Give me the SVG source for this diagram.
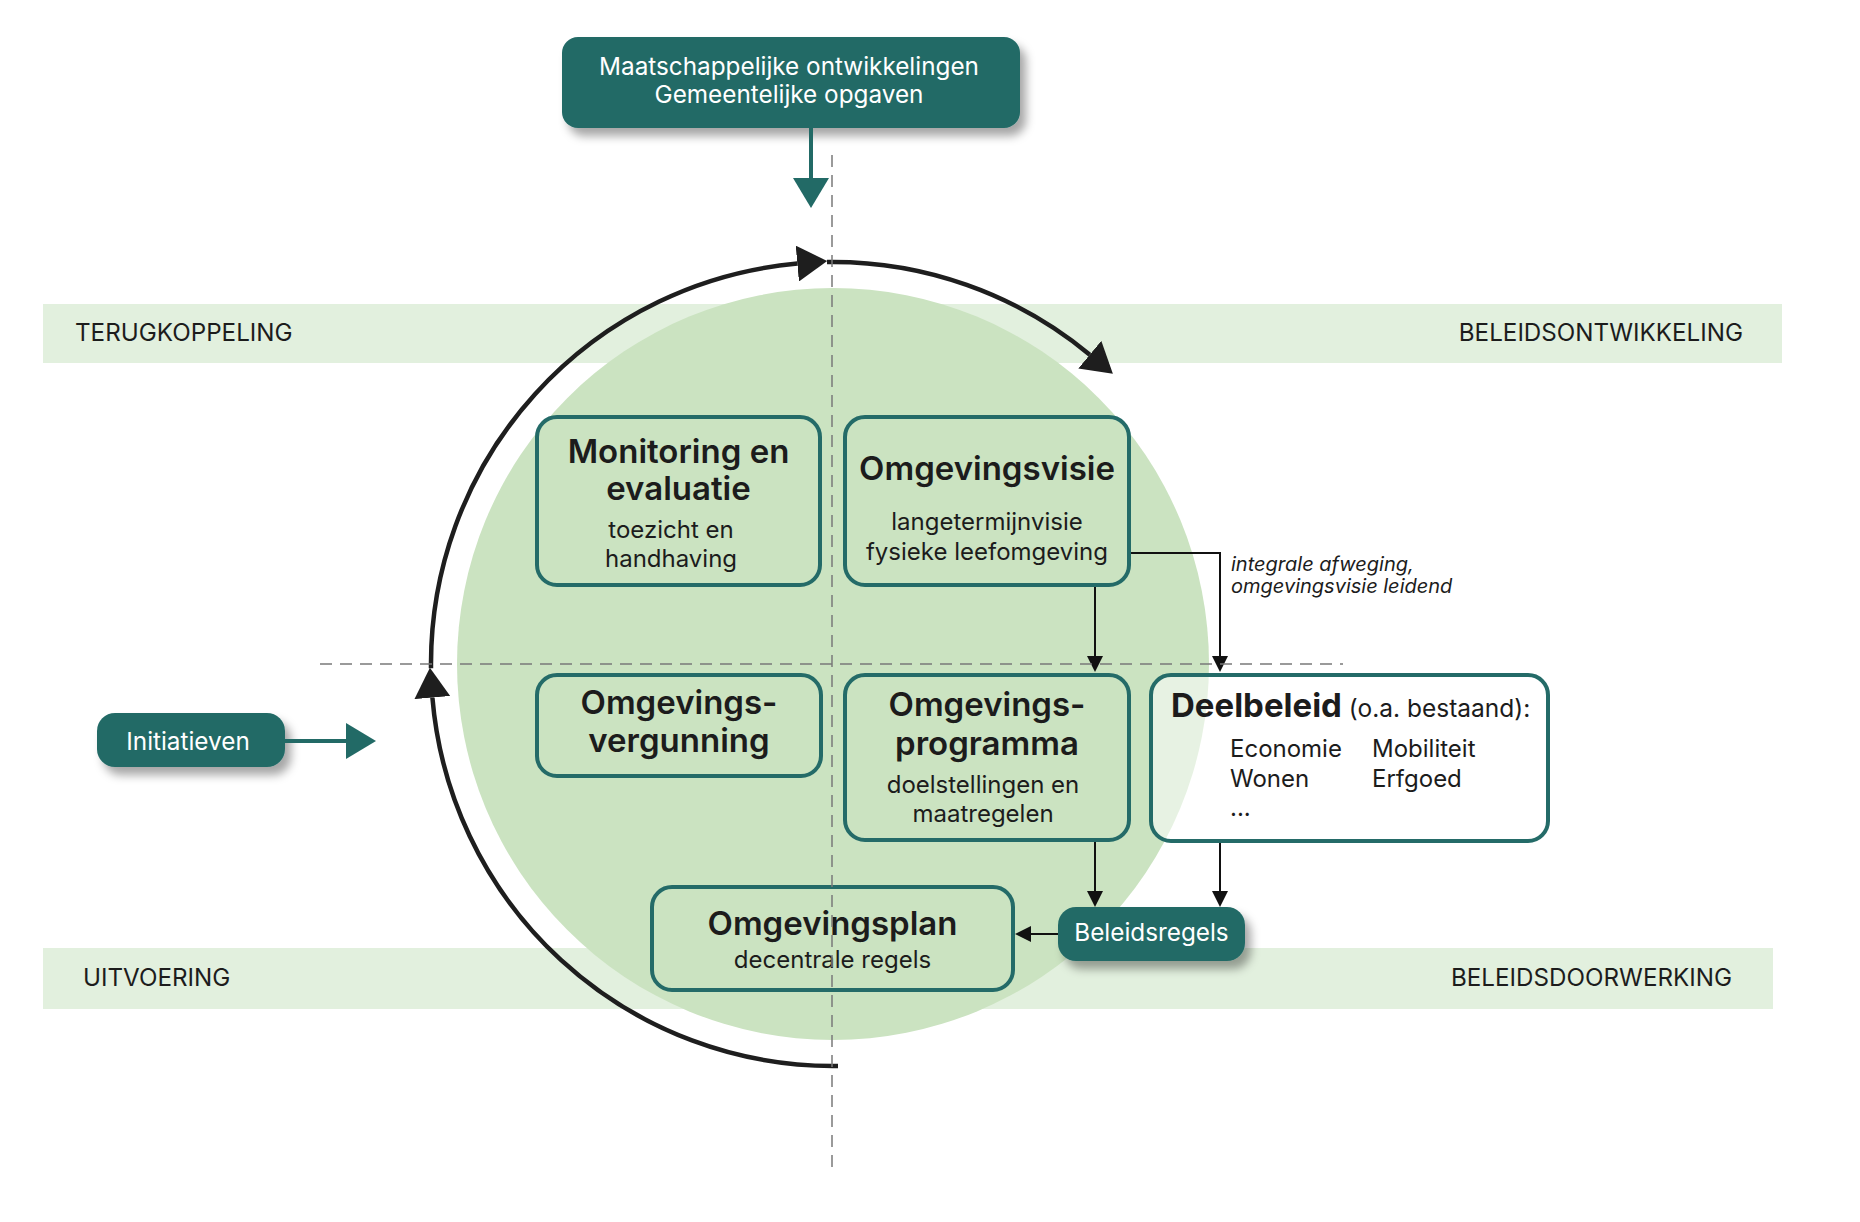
<svg xmlns="http://www.w3.org/2000/svg" width="1860" height="1222" viewBox="0 0 1860 1222">
<style>
.t{font-family:Inter,"Noto Sans","Liberation Sans",sans-serif;fill:#1c1c1c}
.band{fill:#e2f0de}
.bl{font-size:24.2px}
.box{fill:none;stroke:#246b68;stroke-width:4}
.ttl{font-size:33px;font-weight:600;text-anchor:middle}
.sub{font-size:24px;text-anchor:middle}
.tealbox{fill:#226a66}
.wt{fill:#ffffff;font-size:24.3px;text-anchor:middle}
.con{fill:none;stroke:#111;stroke-width:2}
.arc{fill:none;stroke:#1e1e1e;stroke-width:4.5}
.tcon{fill:none;stroke:#226a66;stroke-width:4}
.dash{fill:none;stroke:#7a7a7a;stroke-width:1.5;stroke-dasharray:12 8}
</style>
<defs>
<filter id="sh" x="-20%" y="-30%" width="150%" height="180%">
<feDropShadow dx="6" dy="8" stdDeviation="5" flood-color="#000" flood-opacity="0.35"/>
</filter>
<marker id="ab" viewBox="0 0 16 16" refX="0" refY="8" markerWidth="16" markerHeight="16" markerUnits="userSpaceOnUse" orient="auto"><path d="M0,0 L16,8 L0,16 z" fill="#111"/></marker>
<marker id="abig" viewBox="0 0 30 36" refX="0" refY="18" markerWidth="30" markerHeight="36" markerUnits="userSpaceOnUse" orient="auto"><path d="M0,0 L30,18 L0,36 z" fill="#1e1e1e"/></marker>
<marker id="ateal" viewBox="0 0 30 36" refX="0" refY="18" markerWidth="30" markerHeight="36" markerUnits="userSpaceOnUse" orient="auto"><path d="M0,0 L30,18 L0,36 z" fill="#226a66"/></marker>
</defs>

<g id="bands">
<rect class="band" x="43" y="304" width="1739" height="59"/>
<rect class="band" x="43" y="948" width="1730" height="61"/>
<text class="t bl" x="75" y="341">TERUGKOPPELING</text>
<text class="t bl" x="1743" y="341" text-anchor="end">BELEIDSONTWIKKELING</text>
<text class="t bl" x="83" y="986">UITVOERING</text>
<text class="t bl" x="1732" y="986" text-anchor="end">BELEIDSDOORWERKING</text>
</g>

<circle id="cycle-bg" cx="833" cy="664" r="376" fill="#cbe3c1"/>

<g id="cycle-arc">
<path class="arc" d="M838,1066 L833,1066 A402,402 0 0 1 432.4,697.6" marker-end="url(#abig)"/>
<path class="arc" d="M431,668.2 A402,402 0 0 1 797.3,263.6" marker-end="url(#abig)"/>
<path class="arc" d="M827,262 A402,402 0 0 1 1089.8,354.7" marker-end="url(#abig)"/>
</g>

<g id="node-maatschappelijk">
<rect class="tealbox" x="562" y="37" width="458" height="91" rx="16" filter="url(#sh)"/>
<text class="t wt" x="789" y="75">Maatschappelijke ontwikkelingen</text>
<text class="t wt" x="789" y="103">Gemeentelijke opgaven</text>
</g>

<g id="node-initiatieven">
<rect class="tealbox" x="97" y="713" width="188" height="54" rx="18" filter="url(#sh)"/>
<text class="t wt" x="188" y="750" font-size="25">Initiatieven</text>
</g>

<g id="node-monitoring">
<rect class="box" x="537" y="417" width="283" height="168" rx="20"/>
<text class="t ttl" x="678.5" y="463">Monitoring en</text>
<text class="t ttl" x="678.5" y="500">evaluatie</text>
<text class="t sub" x="671" y="538">toezicht en</text>
<text class="t sub" x="671" y="567">handhaving</text>
</g>

<g id="node-omgevingsvisie">
<rect class="box" x="845" y="417" width="284" height="168" rx="20"/>
<text class="t ttl" x="987" y="480">Omgevingsvisie</text>
<text class="t sub" x="987" y="530">langetermijnvisie</text>
<text class="t sub" x="987" y="560">fysieke leefomgeving</text>
</g>

<g id="node-omgevingsvergunning">
<rect class="box" x="537" y="675" width="284" height="101" rx="20"/>
<text class="t ttl" x="679" y="714">Omgevings-</text>
<text class="t ttl" x="679" y="752">vergunning</text>
</g>

<g id="node-omgevingsprogramma">
<rect class="box" x="845" y="675" width="284" height="165" rx="20"/>
<text class="t ttl" x="987" y="716">Omgevings-</text>
<text class="t ttl" x="987" y="755">programma</text>
<text class="t sub" x="983" y="793">doelstellingen en</text>
<text class="t sub" x="983" y="822">maatregelen</text>
</g>

<g id="node-deelbeleid">
<rect x="1151" y="675" width="397" height="166" rx="20" fill="#ffffff" fill-opacity="0.55" stroke="#246b68" stroke-width="4"/>
<text class="t" x="1171" y="717"><tspan font-size="33" font-weight="700">Deelbeleid</tspan><tspan font-size="24.5"> (o.a. bestaand):</tspan></text>
<text class="t" x="1230" y="757" font-size="24">Economie</text>
<text class="t" x="1372" y="757" font-size="24">Mobiliteit</text>
<text class="t" x="1230" y="787" font-size="24">Wonen</text>
<text class="t" x="1372" y="787" font-size="24">Erfgoed</text>
<text class="t" x="1230" y="816" font-size="24">...</text>
</g>

<g id="node-omgevingsplan">
<rect class="box" x="652" y="887" width="361" height="103" rx="20"/>
<text class="t ttl" x="832.5" y="935">Omgevingsplan</text>
<text class="t sub" x="832.5" y="968">decentrale regels</text>
</g>

<g id="node-beleidsregels">
<rect class="tealbox" x="1058" y="907" width="187" height="54" rx="18" filter="url(#sh)"/>
<text class="t wt" x="1151.5" y="941">Beleidsregels</text>
</g>

<g id="connectors">
<path class="tcon" d="M811,128 V178" marker-end="url(#ateal)"/>
<path class="tcon" d="M285,741 H346" marker-end="url(#ateal)"/>
<path class="con" d="M1095,587 V656" marker-end="url(#ab)"/>
<path class="con" d="M1131,553 H1220 V656" marker-end="url(#ab)"/>
<path class="con" d="M1095,842 V891" marker-end="url(#ab)"/>
<path class="con" d="M1220,843 V891" marker-end="url(#ab)"/>
<path class="con" d="M1058,934 H1031" marker-end="url(#ab)"/>
<text class="t" x="1231" y="571" font-size="20" font-style="italic">integrale afweging,</text>
<text class="t" x="1231" y="593" font-size="20" font-style="italic">omgevingsvisie leidend</text>
</g>

<g id="axes">
<path class="dash" d="M832,155 V1175"/>
<path class="dash" d="M320,664 H1343"/>
</g>
</svg>
